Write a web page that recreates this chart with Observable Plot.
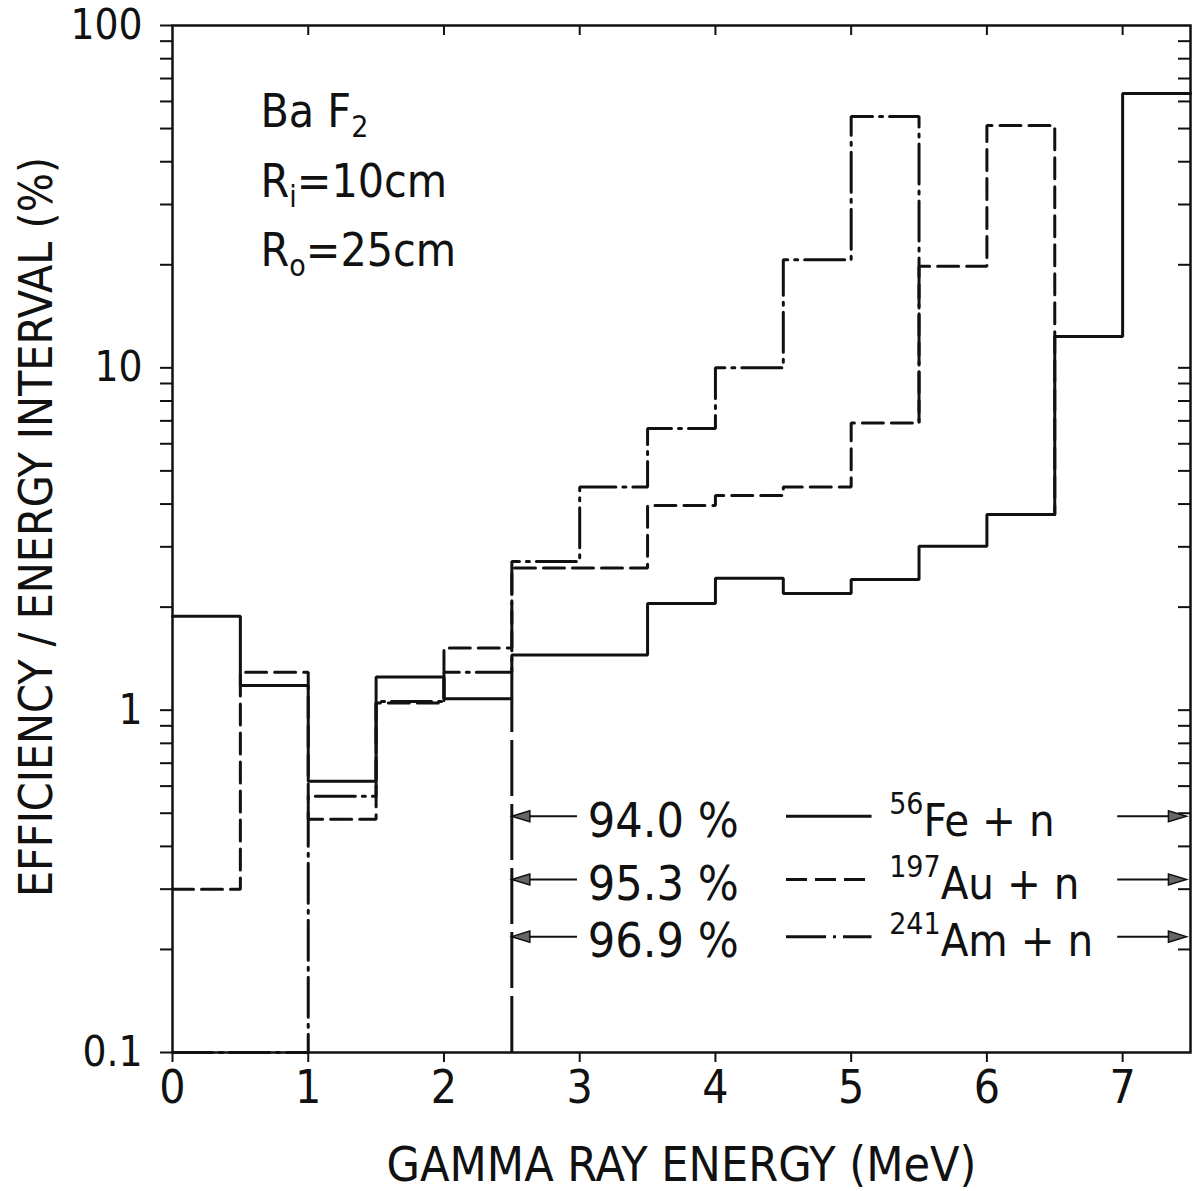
<!DOCTYPE html>
<html>
<head>
<meta charset="utf-8">
<script src="https://cdn.jsdelivr.net/npm/d3@7"></script>
<script src="https://cdn.jsdelivr.net/npm/@observablehq/plot@0.6"></script>
<style>
  html, body { margin: 0; padding: 0; background: #fff; }
</style>
</head>
<body>
<div id="chart"></div>
<script>
// ---- data -------------------------------------------------------------
// lower edges of the 0.5 MeV wide gamma energy bins (MeV)
const binStart = [0, 0.5, 1, 1.5, 2, 2.5, 3, 3.5, 4, 4.5, 5, 5.5, 6, 6.5, 7];
const binWidth = 0.5;

// efficiency per energy interval (%) for each capture cascade
const feValues = [1.88, 1.18, 0.62, 1.25, 1.08, 1.45, 1.45, 2.05, 2.43, 2.19, 2.41, 3.01, 3.73, 12.35, 63.3];
const auValues = [0.30, 1.29, 0.48, 1.05, 1.52, 2.6, 2.6, 3.96, 4.24, 4.49, 6.9, 19.8, 51];
const amValues = [0.1, 0.1, 0.56, 1.06, 1.29, 2.72, 4.49, 6.65, 10.0, 20.7, 54.2];

// level where the falling edge of the last bin ends
const auDropTo = 3.73;
const amDropTo = 6.9;

// threshold energy above which the quoted fractions are collected
const thresholdEnergy = 2.5;
const fractions = ["94.0 %", "95.3 %", "96.9 %"];
const isotopes = ["56", "197", "241"];
const nuclei = ["Fe + n", "Au + n", "Am + n"];

// axis ticks
const xTicks = [0, 1, 2, 3, 4, 5, 6, 7];
const yMajor = [0.1, 1, 10, 100];
const yMinor = [0.2, 0.3, 0.4, 0.5, 0.6, 0.7, 0.8, 0.9,
                2, 3, 4, 5, 6, 7, 8, 9,
                20, 30, 40, 50, 60, 70, 80, 90];

const xTitle = "GAMMA RAY ENERGY (MeV)";
const yTitle = "EFFICIENCY / ENERGY INTERVAL (%)";

// detector description: [text, level] with level 1 = subscript, -1 = superscript
const noteLines = [
  [["Ba F", 0], ["2", 1]],
  [["R", 0], ["i", 1], ["=10cm", 0]],
  [["R", 0], ["o", 1], ["=25cm", 0]]
];

// ---- layout -----------------------------------------------------------
const W = 1192, H = 1191;
const mTop = 25, mRight = 2, mBottom = 139, mLeft = 172;
const plotW = W - mLeft - mRight;
const plotH = H - mTop - mBottom;
const ink = "#111";

// histogram outline as points for a step-after curve
function stepPoints(values, dropTo) {
  const pts = values.map((v, i) => ({x: binStart[i], y: v}));
  const end = binStart[values.length - 1] + binWidth;
  pts.push({x: end, y: values[values.length - 1]});
  if (dropTo != null) pts.push({x: end, y: dropTo});
  return pts;
}

const series = [
  {points: stepPoints(feValues), dash: null},
  {points: stepPoints(auValues, auDropTo), dash: "21,8"},
  {points: stepPoints(amValues, amDropTo), dash: "40,7,3,7"}
];

// annotation rows (y in the data units of the log axis)
const rowY = [0.49, 0.32, 0.218];
const rows = fractions.map((f, i) => ({
  y: rowY[i], fraction: f, dash: series[i].dash,
  parts: [[isotopes[i], -1], [nuclei[i], 0]]
}));

// rich labels, rebuilt with tspans after rendering
const rich = new Map();
const joined = parts => parts.map(p => p[0]).join("");
const notes = noteLines.map((parts, i) => ({parts, y: [50.4, 31.5, 19.9][i]}));
for (const n of notes) rich.set(joined(n.parts), n.parts);
for (const r of rows) rich.set(joined(r.parts), r.parts);

// arrowheads: slim filled triangles with the tip at the anchor point
const headLeft = {draw(ctx) { ctx.moveTo(0, 0); ctx.lineTo(18, -5.5); ctx.lineTo(18, 5.5); ctx.closePath(); }};
const headRight = {draw(ctx) { ctx.moveTo(0, 0); ctx.lineTo(-18, -5.5); ctx.lineTo(-18, 5.5); ctx.closePath(); }};

const marks = [
  // axes
  Plot.axisX(xTicks, {anchor: "bottom", tickSize: 10, tickPadding: 8, strokeWidth: 2,
    fontSize: 46, label: null, tickFormat: d => String(d)}),
  Plot.tickX(xTicks.slice(1), {x: d => d, insetBottom: plotH - 10, strokeWidth: 2, stroke: ink}),
  Plot.axisY([...yMajor, ...yMinor], {anchor: "left", tickSize: 12, tickPadding: 18, strokeWidth: 2,
    fontSize: 42, label: null, tickFormat: d => yMajor.includes(d) ? String(d) : ""}),
  Plot.tickY([...yMinor, 1, 10], {y: d => d, insetLeft: plotW - 12, strokeWidth: 2, stroke: ink}),
  Plot.frame({stroke: ink, strokeWidth: 2.5}),

  // axis titles
  Plot.text([xTitle], {text: d => d, frameAnchor: "bottom", lineAnchor: "bottom", dy: 128, fontSize: 48, fill: ink}),
  Plot.text([yTitle], {text: d => d, frameAnchor: "left", textAnchor: "middle", lineAnchor: "middle",
    rotate: -90, dx: -135, dy: -12, fontSize: 46, fill: ink}),

  // threshold marker below the curves
  Plot.ruleX([thresholdEnergy], {y1: 0.1, y2: feValues[4], stroke: ink, strokeWidth: 3, strokeDasharray: "56,8"}),

  // histograms (dash-dot, dashed, solid on top)
  ...series.slice().reverse().map(s => Plot.line(s.points, {
    x: "x", y: "y", curve: "step-after", stroke: ink, strokeWidth: 3,
    strokeDasharray: s.dash ?? undefined, strokeLinejoin: "miter"
  })),

  // detector description
  Plot.text(notes, {x: 0.648, y: "y", text: d => joined(d.parts), textAnchor: "start",
    lineAnchor: "bottom", fontSize: 46, fill: ink}),

  // fractions with arrows to the threshold line
  Plot.link(rows, {x1: 2.98, x2: thresholdEnergy + 0.05, y1: "y", y2: "y", stroke: ink, strokeWidth: 2}),
  Plot.dot(rows, {x: thresholdEnergy, y: "y", symbol: headLeft, fill: "#666", stroke: ink, strokeWidth: 1.5}),
  Plot.text(rows, {x: 3.06, y: "y", text: "fraction", textAnchor: "start", dy: 5, fontSize: 48, fill: ink}),

  // line-style key
  ...rows.map(r => Plot.link([r], {x1: 4.52, x2: 5.15, y1: "y", y2: "y", stroke: ink, strokeWidth: 3,
    strokeDasharray: r.dash ?? undefined})),
  Plot.text(rows, {x: 5.28, y: "y", text: d => joined(d.parts), textAnchor: "start", dy: 5, fontSize: 45, fill: ink}),

  // arrows to the upper end of the energy range
  Plot.link(rows, {x1: 6.96, x2: 7.4, y1: "y", y2: "y", stroke: ink, strokeWidth: 2}),
  Plot.dot(rows, {x: 7.47, y: "y", symbol: headRight, fill: "#666", stroke: ink, strokeWidth: 1.5})
];

const svg = Plot.plot({
  width: W, height: H,
  marginTop: mTop, marginRight: mRight, marginBottom: mBottom, marginLeft: mLeft,
  style: {fontFamily: '"DejaVu Sans Condensed", "DejaVu Sans", sans-serif', fontSize: "44px",
    color: ink, background: "#fff", overflow: "visible"},
  x: {domain: [0, 7.5], label: null},
  y: {type: "log", domain: [0.1, 100], label: null},
  marks
});

// rebuild sub-/superscript labels as tspans
d3.select(svg).selectAll("text").each(function () {
  const parts = rich.get(this.textContent);
  if (!parts) return;
  const sel = d3.select(this);
  sel.text(null);
  let shift = 0;
  for (const [t, level] of parts) {
    const target = level === 1 ? 10 : level === -1 ? -22 : 0;
    const ts = sel.append("tspan").attr("dy", target - shift).text(t);
    if (level !== 0) ts.attr("font-size", 30);
    shift = target;
  }
});

document.getElementById("chart").appendChild(svg);
</script>
</body>
</html>
